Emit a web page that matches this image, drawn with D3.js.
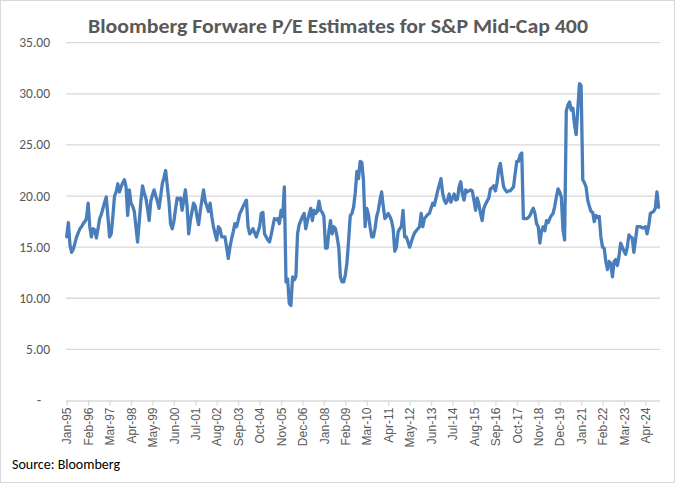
<!DOCTYPE html>
<html><head><meta charset="utf-8">
<script src="https://cdn.jsdelivr.net/npm/d3@7"></script>
<style>body{margin:0;background:#fff}svg{display:block}</style>
</head><body>
<script>
const titleText = "Bloomberg Forware P/E Estimates for S&P Mid-Cap 400";
const sourceText = "Source: Bloomberg";
const monthNames = ["Jan","Feb","Mar","Apr","May","Jun","Jul","Aug","Sep","Oct","Nov","Dec"];
const startYear = 1995;
const peValues = [
// 1995
16.0,17.4,15.2,14.5,14.8,15.4,16.0,16.4,16.8,17.0,17.3,17.5,
// 1996
17.8,19.3,17.0,16.0,16.8,16.7,15.9,16.8,17.8,18.2,18.8,19.4,
// 1997
19.9,18.0,16.0,16.3,18.0,20.0,20.4,21.2,20.4,20.9,21.3,21.6,
// 1998
20.9,18.1,20.6,19.3,19.0,18.5,17.0,15.5,17.5,19.5,21.0,20.3,
// 1999
19.8,18.8,17.6,19.5,20.1,20.6,20.0,19.5,18.8,20.0,21.2,21.8,
// 2000
22.5,21.0,19.5,17.3,16.8,17.5,18.7,19.8,19.7,19.8,18.6,19.6,
// 2001
20.6,19.0,16.3,17.6,18.5,19.3,19.0,18.0,17.2,18.5,19.6,20.6,
// 2002
19.5,19.0,18.5,19.3,18.0,17.0,16.3,15.7,17.0,16.8,16.0,16.0,
// 2003
16.0,15.0,13.9,15.0,15.8,16.5,17.3,17.0,17.6,18.3,18.6,19.0,
// 2004
19.3,19.6,17.0,16.3,16.5,16.8,16.4,16.0,16.5,17.0,18.3,18.4,
// 2005
16.3,16.0,15.7,15.5,16.2,17.0,17.8,17.7,17.8,17.3,18.6,18.0,
// 2006
20.9,11.6,11.9,9.5,9.3,12.1,11.8,12.1,16.3,17.2,17.6,18.0,
// 2007
18.3,16.8,17.6,18.2,18.8,17.6,18.6,18.3,18.5,19.5,18.6,18.4,
// 2008
18.0,14.9,14.9,16.5,17.6,16.3,17.0,16.8,16.0,15.0,12.1,11.6,
// 2009
11.6,12.3,13.5,15.7,18.1,18.3,18.9,20.3,22.4,21.7,23.4,23.3,
// 2010
21.5,17.0,18.8,18.2,17.0,16.0,16.0,16.8,18.0,18.6,19.6,20.4,
// 2011
19.0,17.8,18.0,18.3,18.0,17.6,16.8,14.6,15.0,16.5,16.8,17.0,
// 2012
18.6,16.0,16.0,15.5,15.0,15.5,16.0,16.4,16.6,16.8,17.0,18.3,
// 2013
17.0,17.8,18.0,18.2,18.3,18.8,19.3,19.1,19.8,20.5,21.1,21.7,
// 2014
20.3,19.6,19.3,19.6,20.2,19.4,19.8,20.2,19.6,19.7,20.9,21.4,
// 2015
20.2,19.6,20.6,20.4,20.5,20.6,20.5,19.6,18.6,19.8,19.2,18.3,
// 2016
17.6,18.8,19.2,19.5,19.8,20.7,20.8,21.0,20.5,21.3,22.6,23.2,
// 2017
22.0,20.9,20.6,20.4,20.5,20.5,20.7,20.9,22.2,23.4,23.4,24.0,
// 2018
24.2,17.8,17.8,17.8,17.9,18.1,18.5,18.8,18.3,17.3,17.0,15.4,
// 2019
16.6,17.0,16.6,17.6,17.4,17.8,18.1,18.3,19.0,19.9,20.7,20.4,
// 2020
19.9,16.7,15.7,28.3,28.9,29.2,28.4,28.6,27.0,26.0,28.5,31.0,
// 2021
30.8,21.6,21.3,20.9,19.6,19.0,18.5,18.4,17.5,18.1,17.9,18.0,
// 2022
16.0,15.0,14.9,13.6,12.8,13.6,13.4,12.1,13.6,13.8,13.2,14.1,
// 2023
15.4,15.0,14.6,14.3,15.0,16.2,16.0,15.9,14.5,15.7,17.0,17.0,
// 2024
17.0,16.9,16.9,17.0,16.3,17.1,18.3,18.4,18.5,18.8,20.4,18.9
];
const monthLabels = peValues.map((v,i)=> monthNames[i%12] + "-" + String((startYear + Math.floor(i/12)) % 100).padStart(2,"0"));
const xTickLabels = ["Jan-95","Feb-96","Mar-97","Apr-98","May-99","Jun-00","Jul-01","Aug-02","Sep-03","Oct-04","Nov-05","Dec-06","Jan-08","Feb-09","Mar-10","Apr-11","May-12","Jun-13","Jul-14","Aug-15","Sep-16","Oct-17","Nov-18","Dec-19","Jan-21","Feb-22","Mar-23","Apr-24"];
const yTickValues = [0,5,10,15,20,25,30,35];

const W = 675, H = 483;
const svg = d3.select("body").append("svg").attr("width", W).attr("height", H);

svg.append("rect").attr("x",0.5).attr("y",0.5).attr("width",W-1).attr("height",H-1)
  .attr("fill","#fff").attr("stroke","#d9d9d9").attr("stroke-width",1);

const x = d3.scalePoint().domain(monthLabels).range([66.7, 658.6]);
const y = d3.scaleLinear().domain([0,35]).range([400.5, 42.7]);

// gridlines
svg.append("g").selectAll("line").data(yTickValues.filter(d=>d>0)).join("line")
  .attr("x1",66).attr("x2",660).attr("y1",d=>y(d)).attr("y2",d=>y(d))
  .attr("stroke","#d9d9d9").attr("stroke-width",1.3);

// y labels
svg.append("g").selectAll("text").data(yTickValues).join("text")
  .attr("x", d=> d===0 ? 39 : 50).attr("y", d=>y(d)+4.5)
  .attr("text-anchor", d=> d===0 ? "middle" : "end")
  .attr("font-family","Carlito, Calibri, 'Liberation Sans', sans-serif").attr("font-size",13.5)
  .attr("fill","#595959")
  .text(d=> d===0 ? "-" : d.toFixed(2));

// x axis
const xAxis = d3.axisBottom(x).tickValues(xTickLabels).tickSize(5).tickSizeOuter(0);
const gx = svg.append("g").attr("transform",`translate(0,${y(0)})`).call(xAxis);
gx.select(".domain").attr("stroke","#d9d9d9").attr("stroke-width",1.3).attr("d","M66,0.5H660");
gx.selectAll(".tick line").attr("stroke","#d9d9d9").attr("stroke-width",1.3);
gx.selectAll(".tick text")
  .attr("transform","rotate(-90)")
  .attr("text-anchor","end")
  .attr("x",-7).attr("y",0).attr("dy","0.35em")
  .attr("font-family","'Liberation Sans', Arial, sans-serif").attr("font-size",12)
  .attr("fill","#595959");

// line
const line = d3.line().x((d,i)=>x(monthLabels[i])).y(d=>y(d));
svg.append("path").datum(peValues).attr("d",line)
  .attr("fill","none").attr("stroke","#4a7ebb").attr("stroke-width",3.3)
  .attr("stroke-linejoin","round").attr("stroke-linecap","round");

// title
svg.append("text").attr("x",88).attr("y",33)
  .attr("font-family","Carlito, Calibri, 'Open Sans', sans-serif").attr("font-weight","bold")
  .attr("font-size",19.5).attr("fill","#595959")
  .attr("textLength",500).attr("lengthAdjust","spacingAndGlyphs")
  .text(titleText);

// source
svg.append("text").attr("x",12).attr("y",469)
  .attr("font-family","Carlito, Calibri, 'Open Sans', sans-serif").attr("font-size",14)
  .attr("font-weight","normal").attr("fill","#000")
  .text(sourceText);
</script>
</body></html>
